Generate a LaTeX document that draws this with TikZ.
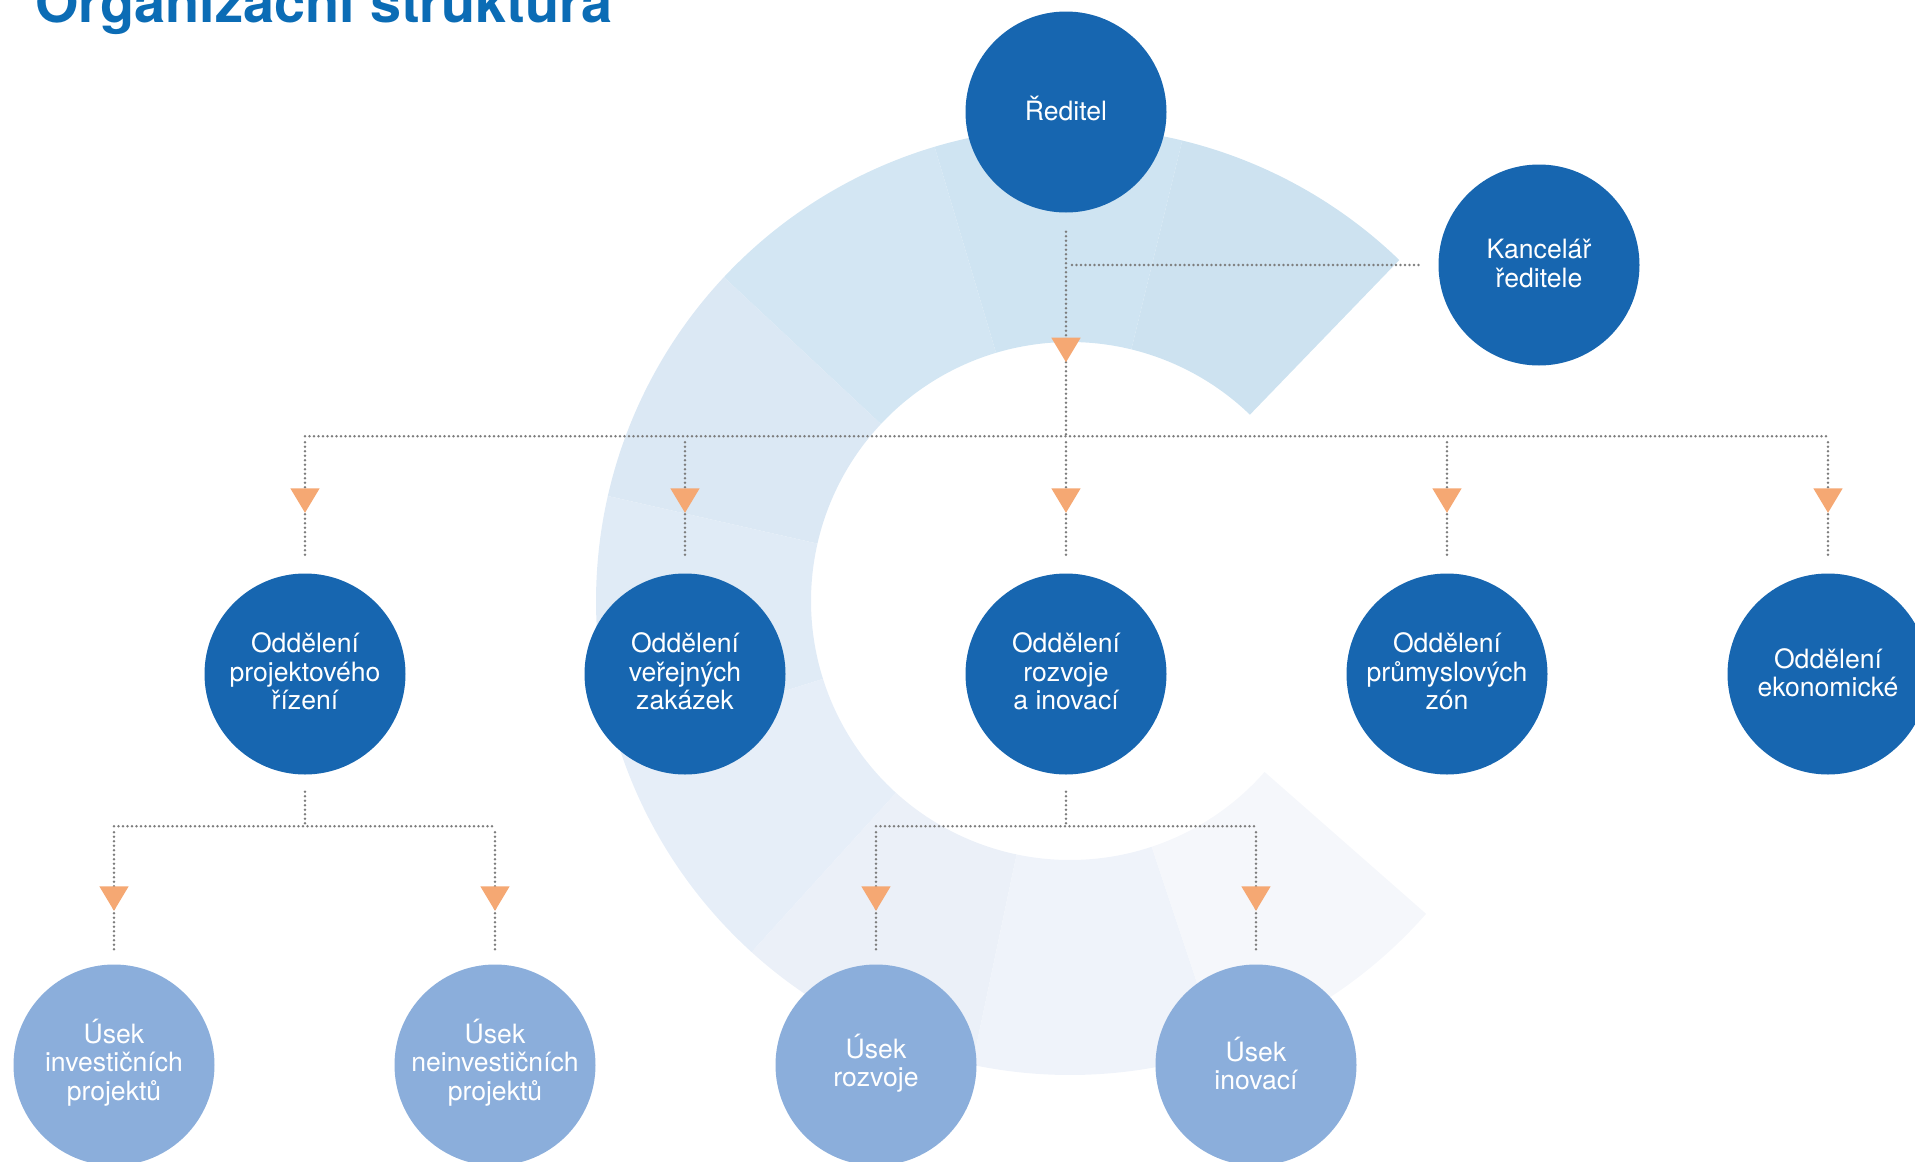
\documentclass[tikz,border=0pt]{standalone}
\usepackage{fontspec}
\setmainfont{TeX Gyre Heros}
\usetikzlibrary{calc}
\definecolor{dkblue}{RGB}{23,102,176}
\definecolor{ltblue}{RGB}{139,174,219}
\definecolor{orng}{RGB}{245,168,115}
\definecolor{dotgray}{RGB}{125,125,125}
\definecolor{titleblue}{RGB}{11,108,181}
\definecolor{sa}{RGB}{205,226,240}
\definecolor{sb}{RGB}{207,228,242}
\definecolor{sc}{RGB}{211,230,243}
\definecolor{sd}{RGB}{219,232,244}
\definecolor{se}{RGB}{224,235,246}
\definecolor{sf}{RGB}{230,238,248}
\definecolor{sg}{RGB}{235,240,248}
\definecolor{sh}{RGB}{239,243,250}
\definecolor{si}{RGB}{245,247,251}
\tikzset{
  dept/.style={circle, fill=dkblue, minimum size=201pt, inner sep=0pt},
  subdept/.style={dept, fill=ltblue},
  lbl/.style={text=white, align=center, inner sep=0pt, font=\fontsize{26.6}{28.3}\selectfont},
  lblA/.style={lbl, yshift=4pt},
  lblB/.style={lbl, yshift=1.5pt},
  lblC/.style={lbl, yshift=2.5pt},
  dotline/.style={draw=dotgray, line width=2.8pt, line cap=round, dash pattern=on 0pt off 4.5pt},
  downtri/.pic={\fill[orng] (-14.7,0) -- (14.7,0) -- (0,24.5) -- cycle;}
}
\begin{document}
\begin{tikzpicture}[x=1pt,y=-1pt]
\useasboundingbox (0,0) rectangle (1915,1162);
\clip (0,0) rectangle (1915,1162);
% background ring
\coordinate (ringc) at (1070,601);
\foreach \a/\b/\c in {-46/-76.3/sa, -76.3/-106.6/sb, -106.6/-136.9/sc, -136.9/-167.2/sd,
  -167.2/-197.5/se, -197.5/-227.8/sf, -227.8/-258.1/sg, -258.1/-288.4/sh, -288.4/-318.7/si}{
  \fill[\c] ($(ringc)+(\a:474)$) arc[start angle=\a, end angle=\b, radius=474]
    -- ($(ringc)+(\b:259)$) arc[start angle=\b, end angle=\a, radius=259] -- cycle;
}
% title
\node[anchor=base west, inner sep=0pt, text=titleblue, font=\fontsize{55.8}{60}\selectfont\bfseries]
  (title) at (35,22) {Organizační struktura};
% nodes
\node[dept, label={[lblA]center:Ředitel}] (red) at (1066,112) {};
\node[dept, label={[lblB]center:Kancelář\\ředitele}] (kanc) at (1539,265) {};
\node[dept, label={[lblC]center:Oddělení\\projektového\\řízení}] (o1) at (305,674) {};
\node[dept, label={[lblC]center:Oddělení\\veřejných\\zakázek}] (o2) at (685,674) {};
\node[dept, label={[lblC]center:Oddělení\\rozvoje\\a inovací}] (o3) at (1066,674) {};
\node[dept, label={[lblC]center:Oddělení\\průmyslových\\zón}] (o4) at (1447,674) {};
\node[dept, label={[lblB]center:Oddělení\\ekonomické}] (o5) at (1828,674) {};
\node[subdept, label={[lblC]center:Úsek\\investičních\\projektů}] (u1) at (114,1065) {};
\node[subdept, label={[lblC]center:Úsek\\neinvestičních\\projektů}] (u2) at (495,1065) {};
\node[subdept, label={[lblB]center:Úsek\\rozvoje}] (u3) at (876,1065) {};
\node[subdept, label={[lblB]center:Úsek\\inovací}] (u4) at (1256,1065) {};
% top connectors
\draw[dotline] ($(red.south)+(0,19)$) -- ($(o3.north)+(0,-137)$);
\draw[dotline] ($(kanc.west -| red.south)+(6,0)$) -- ($(kanc.west)+(-17,0)$);
\path ($(red.south)+(0,125)$) pic {downtri};
\draw[dotline] ($(o1.north)+(0,-137)$) -- ($(o5.north)+(0,-137)$);
\foreach \n in {o1,o2,o3,o4,o5}{
  \draw[dotline] ($(\n.north)+(0,-131)$) -- ($(\n.north)+(0,-14)$);
  \path ($(\n.north)+(0,-85)$) pic {downtri};
}
% second-level connectors
\draw[dotline] ($(o1.south)+(0,17)$) -- ($(o1.south)+(0,50)$);
\draw[dotline] ($(u1.north)+(0,-138)$) -- ($(u2.north)+(0,-138)$);
\draw[dotline] ($(o3.south)+(0,17)$) -- ($(o3.south)+(0,50)$);
\draw[dotline] ($(u3.north)+(0,-138)$) -- ($(u4.north)+(0,-138)$);
\foreach \n in {u1,u2,u3,u4}{
  \draw[dotline] ($(\n.north)+(0,-132)$) -- ($(\n.north)+(0,-12)$);
  \path ($(\n.north)+(0,-78)$) pic {downtri};
}
\end{tikzpicture}
\end{document}
